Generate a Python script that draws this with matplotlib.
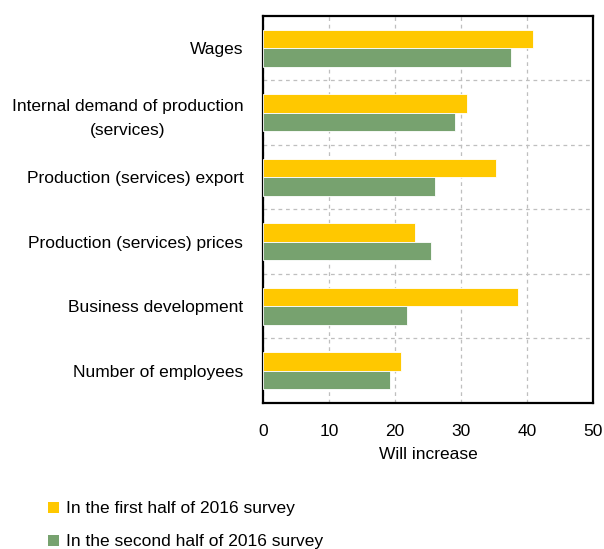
import numpy as np
import matplotlib
matplotlib.use("Agg")
import matplotlib.pyplot as plt
from matplotlib.patches import Patch

plt.rcParams['font.family'] = ['Liberation Sans', 'DejaVu Sans']

# categories from top to bottom
categories = [
    "Wages",
    "Internal demand of production\n(services)",
    "Production (services) export",
    "Production (services) prices",
    "Business development",
    "Number of employees",
]
first_half = [40.9, 30.9, 35.3, 23.1, 38.6, 20.9]
second_half = [37.6, 29.1, 26.0, 25.5, 21.8, 19.2]
series_names = ["In the first half of 2016 survey", "In the second half of 2016 survey"]
colors = ["#FFC800", "#77A26F"]

fig = plt.figure(figsize=(6.04, 5.49), dpi=100)
ax = fig.add_axes([0.435, 0.266, 0.547, 0.705])

n = len(categories)
y = np.arange(n)[::-1]
h = 0.285
ax.barh(y + h / 2, first_half, height=h, color=colors[0], edgecolor="white", linewidth=0.6, zorder=3)
ax.barh(y - h / 2, second_half, height=h, color=colors[1], edgecolor="white", linewidth=0.6, zorder=3)

ax.set_xlim(0, 50)
ax.set_ylim(-0.5, n - 0.5)
ax.set_xticks(np.arange(0, 51, 10))
ax.set_yticks(y)
ax.set_yticklabels(categories, multialignment="center", linespacing=1.7)
ax.set_yticks(np.arange(0.5, n - 1, 1), minor=True)

fs = 12.5
ax.tick_params(axis="both", which="both", length=0, labelsize=fs)
ax.tick_params(axis="y", pad=14)
ax.tick_params(axis="x", pad=15)
ax.grid(axis="x", which="major", color="#BFBFBF", linestyle=(0, (3, 3)), linewidth=0.9, zorder=0)
ax.grid(axis="y", which="minor", color="#BFBFBF", linestyle=(0, (3, 3)), linewidth=0.9, zorder=0)

for s in ax.spines.values():
    s.set_linewidth(1.6)
    s.set_color("black")

ax.set_xlabel("Will increase", fontsize=fs, labelpad=6)

handles = [Patch(facecolor=c, edgecolor="none") for c in colors]
fig.legend(handles, series_names, loc="upper left", bbox_to_anchor=(0.08, 0.087),
           frameon=False, fontsize=fs, handlelength=0.6, handleheight=0.6,
           handletextpad=0.4, labelspacing=1.05, borderaxespad=0, borderpad=0)

fig.savefig("out.png", dpi=100)
